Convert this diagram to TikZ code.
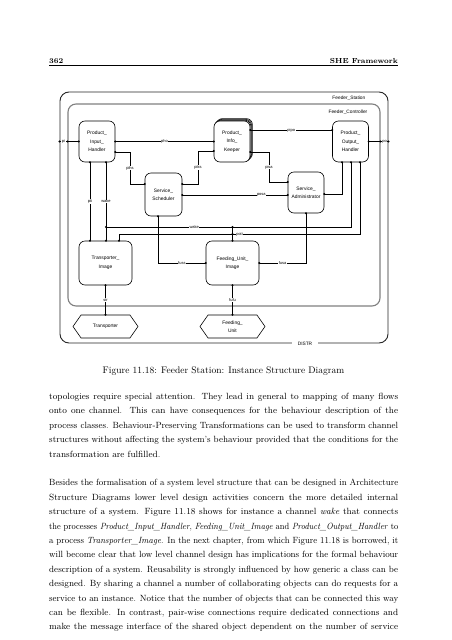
\documentclass[tikz,border=0pt]{standalone}
\usepackage{fontspec}
\usepackage{graphicx}
\setsansfont{Liberation Sans}
\usetikzlibrary{calc,shapes.symbols}

% one justified line of the page text
\newcommand\fitline[1]{\sbox0{#1}\ifdim\wd0>349pt\relax
  \resizebox{349pt}{\height}{#1}\else\makebox[349pt][s]{#1}\fi\par}

\tikzset{
  proc/.style={draw, line width=0.6pt, rounded corners=6pt, fill=white,
    minimum width=36pt, minimum height=41pt, inner sep=1pt, align=center,
    font=\sffamily\fontsize{4.9}{8.4}\selectfont},
  wideproc/.style={proc, minimum width=53pt, minimum height=44pt},
  actor/.style={draw, line width=0.6pt, signal, signal to=west and east,
    signal pointer angle=110, minimum width=65pt, minimum height=23pt,
    inner sep=1pt, align=center, font=\sffamily\fontsize{4.9}{8.4}\selectfont},
  chan/.style={fill=white, inner sep=0.5pt, font=\sffamily\fontsize{4}{4}\selectfont},
  lbl/.style={inner sep=0.5pt, font=\sffamily\fontsize{4.8}{5}\selectfont},
  portdot/.style={circle, fill, inner sep=0pt, minimum size=2.2pt},
  wire/.style={line width=0.5pt},
  head/.style={inner sep=0pt, font=\bfseries\fontsize{7.3}{9}\selectfont},
  body/.style={anchor=base west, inner sep=0pt, font=\fontsize{9}{14.4}\selectfont},
}

\begin{document}
\begin{tikzpicture}[x=1pt, y=-1pt]
    \path[use as bounding box, fill=white] (0,0) rectangle (452,640);

    % page head
    \node[head, anchor=base west] (pageno) at (49,63) {362};
    \node[head, anchor=base east] (chapter) at (398,63) {SHE Framework};
    \draw[line width=0.7pt] (49,65.5) -- (398,65.5);

    % Feeder_Station and Feeder_Controller
    \node[draw, black!85, line width=0.9pt, rounded corners=9pt, minimum width=328pt, minimum height=251pt, inner sep=0pt] (fs) at (224,217.5) {};
    \node[draw, gray, line width=1.1pt, rounded corners=8pt, minimum width=312pt, minimum height=202pt, inner sep=0pt] (fc) at (224,205) {};
    \node[lbl, anchor=east] (fslabel) at (366,98) {Feeder\_Station};
    \node[lbl, anchor=east] (fclabel) at (368,112) {Feeder\_Controller};
    \node[lbl, fill=white, inner xsep=6pt] (distr) at (fs.south -| 305,0) {DISTR};

    % processes
    \node[proc] (pih) at (97,141.5) {Product\_\\Input\_\\Handler};
    \foreach \o in {2.4,1.6,0.8} \node[proc] at (232+\o,141.5-\o) {};
    \node[proc] (pik) at (232,141.5) {Product\_\\Info\_\\Keeper};
    \node[proc] (poh) at (350.5,141.5) {Product\_\\Output\_\\Handler};
    \node[proc, minimum width=37pt, minimum height=43pt] (ss) at (163.5,194.5) {Service\_\\Scheduler};
    \node[proc] (sa) at (306,192.5) {Service\_\\Administrator};
    \node[wideproc] (ti) at (105.5,263) {Transporter\_\\Image};
    \node[wideproc] (fui) at (232.5,263) {Feeding\_Unit\_\\Image};

    % terminators
    \node[actor] (tr) at (105.5,326.5) {Transporter};
    \node[actor] (fu) at (232.5,326.5) {Feeding\_\\Unit};

    % channels
    \draw[wire] (pih.west -| fs.west) node[portdot]{} -- node[chan]{pi} (pih.west -| fc.west) node[portdot]{} -- (pih.west) node[portdot]{};
    \draw[wire] (pih.east) node[portdot]{} -- node[chan]{pho} (pik.west) node[portdot]{};
    \draw[wire] (pih.east |- 0,152) node[portdot]{} -| node[chan, pos=0.75]{pihs} (130,184) -- (ss.west |- 0,184) node[portdot]{};
    \draw[wire] (ss.east |- 0,184) node[portdot]{} -| node[chan, pos=0.75]{piks} (198,151) -- (pik.west |- 0,151) node[portdot]{};
    \draw[wire] (pik.east |- 0,130) node[portdot]{} -- node[chan]{pipo} (poh.west |- 0,130) node[portdot]{};
    \draw[wire] (pik.east |- 0,152) node[portdot]{} -| node[chan, pos=0.75]{pisa} (269,182) -- (sa.west |- 0,182) node[portdot]{};
    \draw[wire] (ss.east |- 0,195) node[portdot]{} -- node[chan, pos=0.75]{posa} (sa.west |- 0,195) node[portdot]{};
    \draw[wire] (sa.east |- 0,194) node[portdot]{} -| (poh.south -| 342,0) node[portdot]{};
    \draw[wire] (poh.east) node[portdot]{} -- (poh.east -| fc.east) node[portdot]{} -- node[chan]{po} (poh.east -| fs.east) node[portdot]{};

    % wake and poti
    \draw[wire] (poh.south -| 351,0) node[portdot]{} |- node[chan, pos=0.82]{wake} (106,227) node[portdot]{};
    \draw[wire] (pih.south -| 106,0) node[portdot]{} -- node[chan]{wake} (ti.north -| 106,0) node[portdot]{};
    \draw[wire] (pih.south -| 90,0) node[portdot]{} -- node[chan]{pti} (ti.north -| 90,0) node[portdot]{};
    \draw[wire] (poh.south -| 360,0) node[portdot]{} |- node[chan, pos=0.75]{poti} (119,234) -- (ti.north -| 119,0) node[portdot]{};
    \draw[wire] (fui.north |- 0,227) node[portdot]{} -- (fui.north |- 0,234) node[portdot]{} -- (fui.north) node[portdot]{};

    % feeding unit image
    \draw[wire] (ss.south -| 158,0) node[portdot]{} |- node[chan, pos=0.75]{fuss} (fui.west) node[portdot]{};
    \draw[wire] (sa.south) node[portdot]{} |- node[chan, pos=0.75]{fusa} (fui.east) node[portdot]{};

    % to the terminators
    \draw[wire] (ti.south) node[portdot]{} -- node[chan]{str} (tr.north) node[portdot]{};
    \draw[wire] (fui.south) node[portdot]{} -- node[chan]{fufu} (fu.north) node[portdot]{};

    % caption and text
    \node[anchor=base, inner sep=0pt, font=\fontsize{9.5}{12}\selectfont] (caption) at (223.5,373) {Figure 11.18: Feeder Station: Instance Structure Diagram};
    \node[body] (par1) at (49,399.5) {\parbox[t]{349pt}{%
      \fitline{topologies require special attention. They lead in general to mapping of many flows}
      \fitline{onto one channel. This can have consequences for the behaviour description of the}
      \fitline{process classes. Behaviour-Preserving Transformations can be used to transform channel}
      \fitline{structures without affecting the system's behaviour provided that the conditions for the}
      transformation are fulfilled.}};
    \node[body] (par2) at (49,485.9) {\parbox[t]{349pt}{%
      \fitline{Besides the formalisation of a system level structure that can be designed in Architecture}
      \fitline{Structure Diagrams lower level design activities concern the more detailed internal}
      \fitline{structure of a system. Figure 11.18 shows for instance a channel \textit{wake} that connects}
      \fitline{the processes \textit{Product\_Input\_Handler}, \textit{Feeding\_Unit\_Image} and \textit{Product\_Output\_Handler} to}
      \fitline{a process \textit{Transporter\_Image}. In the next chapter, from which Figure 11.18 is borrowed, it}
      \fitline{will become clear that low level channel design has implications for the formal behaviour}
      \fitline{description of a system. Reusability is strongly influenced by how generic a class can be}
      \fitline{designed. By sharing a channel a number of collaborating objects can do requests for a}
      \fitline{service to an instance. Notice that the number of objects that can be connected this way}
      \fitline{can be flexible. In contrast, pair-wise connections require dedicated connections and}
      \fitline{make the message interface of the shared object dependent on the number of service}}};
\end{tikzpicture}
\end{document}
